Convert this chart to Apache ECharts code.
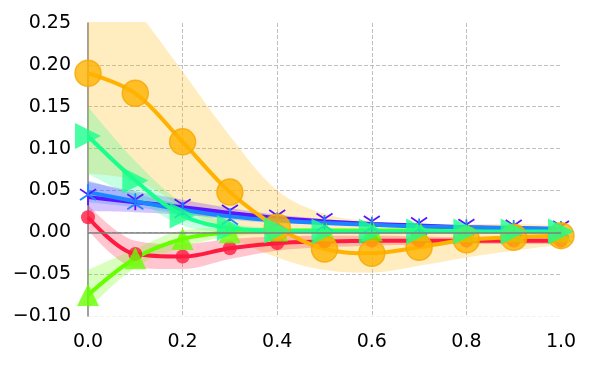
<!doctype html>
<html>
<head>
<meta charset="utf-8" />
<script src="https://cdn.jsdelivr.net/npm/echarts@6/dist/echarts.min.js"></script>
<style>
  html, body { margin: 0; padding: 0; background: #ffffff; }
  #chart { width: 600px; height: 375px; }
</style>
</head>
<body>
<div id="chart"></div>
<script>
const FONT = "DejaVu Sans";

// x positions (category ticks) and y tick range
const xTicks = ["0.0", "0.1", "0.2", "0.3", "0.4", "0.5", "0.6", "0.7", "0.8", "0.9", "1.0"];
const yMin = -0.10;
const yMax = 0.25;
const yStep = 0.05;

// orange, big circles
const orangeMean = [0.190, 0.166, 0.108, 0.048, 0.006, -0.020, -0.025, -0.018, -0.009, -0.006, -0.004];
const orangeLow = [0.070, 0.062, 0.030, -0.005, -0.030, -0.045, -0.048, -0.040, -0.030, -0.022, -0.015];
const orangeHigh = [0.340, 0.268, 0.192, 0.115, 0.050, 0.022, 0.013, 0.010, 0.010, 0.010, 0.008];

// red, small circles
const redMean = [0.018, -0.026, -0.029, -0.019, -0.013, -0.011, -0.010, -0.010, -0.010, -0.010, -0.010];
const redLow = [0.003, -0.042, -0.044, -0.032, -0.022, -0.018, -0.016, -0.015, -0.014, -0.014, -0.014];
const redHigh = [0.033, -0.010, -0.014, -0.008, -0.005, -0.004, -0.004, -0.005, -0.006, -0.006, -0.006];

// lime, triangles up
const greenMean = [-0.075, -0.031, -0.008, 0.000, 0.002, 0.002, 0.002, 0.002, 0.001, 0.001, 0.001];
const greenLow = [-0.092, -0.042, -0.018, -0.005, -0.002, -0.001, -0.001, -0.001, -0.001, -0.001, -0.001];
const greenHigh = [-0.045, -0.020, 0.002, 0.005, 0.005, 0.005, 0.004, 0.004, 0.003, 0.003, 0.003];

// teal, triangles right
const tealMean = [0.115, 0.062, 0.020, 0.005, 0.002, 0.001, 0.001, 0.001, 0.001, 0.001, 0.001];
const tealLow = [0.070, 0.040, 0.008, 0.000, -0.001, -0.001, -0.001, -0.001, -0.001, -0.001, -0.001];
const tealHigh = [0.150, 0.085, 0.035, 0.011, 0.005, 0.003, 0.003, 0.003, 0.003, 0.003, 0.003];

// blue, tri-up ticks
const blueMean = [0.048, 0.037, 0.027, 0.019, 0.014, 0.011, 0.009, 0.007, 0.006, 0.005, 0.004];
const blueLow = [0.036, 0.030, 0.022, 0.015, 0.011, 0.009, 0.007, 0.006, 0.005, 0.004, 0.003];
const blueHigh = [0.062, 0.046, 0.033, 0.023, 0.017, 0.013, 0.011, 0.009, 0.007, 0.006, 0.005];

// purple, tri-down ticks
const purpleMean = [0.042, 0.036, 0.030, 0.023, 0.017, 0.013, 0.010, 0.008, 0.006, 0.005, 0.004];
const purpleLow = [0.025, 0.024, 0.021, 0.017, 0.013, 0.010, 0.008, 0.006, 0.005, 0.004, 0.003];
const purpleHigh = [0.060, 0.049, 0.039, 0.029, 0.021, 0.016, 0.012, 0.010, 0.008, 0.006, 0.005];

const TRI_UP = "path://M0,0 L0,-10 M0,0 L-8.66,5 M0,0 L8.66,5";
const TRI_DOWN = "path://M0,0 L0,10 M0,0 L-8.66,-5 M0,0 L8.66,-5";

const SMOOTH = 0.35;

function band(id, low, high, color, opacity) {
  return [
    {
      type: "line", stack: id, stackStrategy: "all", data: low, smooth: SMOOTH, symbol: "none",
      lineStyle: { opacity: 0 }, silent: true,
    },
    {
      type: "line", stack: id, stackStrategy: "all", data: high.map((v, i) => v - low[i]),
      smooth: SMOOTH, symbol: "none",
      lineStyle: { opacity: 0 }, areaStyle: { color, opacity }, silent: true,
    },
  ];
}

function meanLine(data, color, width, symbol, size, extra) {
  return Object.assign({
    type: "line", data, smooth: SMOOTH, symbol, symbolSize: size, showSymbol: true,
    lineStyle: { color, width },
    itemStyle: { color, opacity: 0.8 },
    z: 3,
  }, extra || {});
}

function yLabel(v) {
  if (Math.abs(v) < 1e-9) return "0.00";
  const s = Math.abs(v).toFixed(2);
  return v < 0 ? "\u2212" + s : s;
}

const chart = echarts.init(document.getElementById("chart"), null, { renderer: "canvas" });

chart.setOption({
  animation: false,
  backgroundColor: "#ffffff",
  grid: { left: 88, right: 39, top: 23, bottom: 59 },
  xAxis: {
    type: "category",
    data: xTicks,
    boundaryGap: false,
    axisLine: { show: false },
    axisTick: { show: false },
    axisLabel: { interval: 1, fontFamily: FONT, fontSize: 19, color: "#000", margin: 17 },
    splitLine: {
      show: true,
      interval: (i) => i % 2 === 0 && i > 0 && i < 10,
      lineStyle: { color: "#b0b0b0", type: [4, 2], width: 0.8 },
    },
  },
  yAxis: {
    type: "value",
    min: yMin,
    max: yMax,
    interval: yStep,
    axisLine: { show: true, lineStyle: { color: "#808080", width: 1.5 } },
    axisTick: { show: false },
    axisLabel: { fontFamily: FONT, fontSize: 19, color: "#000", margin: 17, formatter: yLabel },
    splitLine: {
      show: true,
      lineStyle: {
        color: ["#f0f0f0", "#b0b0b0", "#b0b0b0", "#b0b0b0", "#b0b0b0", "#b0b0b0", "#b0b0b0", "rgba(0,0,0,0)"],
        type: [4, 2],
        width: 0.8,
      },
    },
  },
  series: [
    {
      type: "line", data: [], silent: true,
      markLine: {
        silent: true, symbol: "none", label: { show: false },
        lineStyle: { color: "#808080", width: 1.5, type: "solid" },
        data: [{ yAxis: 0 }],
      },
    },
    ...band("orange", orangeLow, orangeHigh, "#ffb300", 0.25),
    ...band("red", redLow, redHigh, "#ff1a40", 0.25),
    ...band("green", greenLow, greenHigh, "#66ff00", 0.25),
    ...band("purple", purpleLow, purpleHigh, "#5a14ff", 0.25),
    ...band("blue", blueLow, blueHigh, "#1a86ff", 0.25),
    ...band("teal", tealLow, tealHigh, "#1aff8c", 0.25),
    meanLine(redMean, "#ff1a40", 4, "circle", 14),
    meanLine(greenMean, "#66ff00", 4, "triangle", 22),
    meanLine(purpleMean, "#5a14ff", 4, TRI_DOWN, 16, {
      itemStyle: { color: "#5a14ff", borderColor: "#5a14ff", borderWidth: 1.8 },
    }),
    meanLine(blueMean, "#1a86ff", 4, TRI_UP, 16, {
      itemStyle: { color: "#1a86ff", borderColor: "#1a86ff", borderWidth: 1.8 },
    }),
    meanLine(orangeMean, "#ffb300", 4, "circle", 26, {
      itemStyle: { color: "#ffb300", opacity: 0.8, borderColor: "#f5a800", borderWidth: 1.5 },
    }),
    meanLine(tealMean, "#1aff8c", 4, "triangle", 26, { symbolRotate: -90 }),
  ],
});
</script>
</body>
</html>
